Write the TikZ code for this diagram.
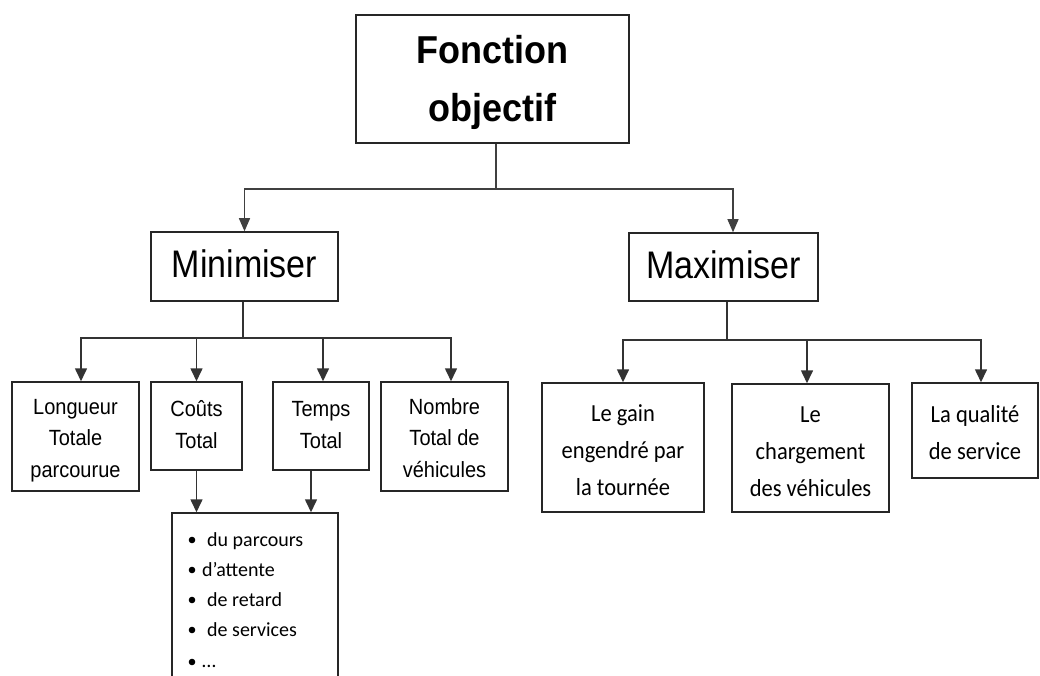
\documentclass[tikz,border=0pt]{standalone}
\usepackage{fontspec}
\usepackage{graphicx}
\setmainfont{Liberation Sans}
\newfontfamily\calibri{Carlito}
\usetikzlibrary{arrows.meta}
% vertically stretched, centred multi-line label; optional argument lowers the ink
\newcommand\vlabel[3][0pt]{\raisebox{#1}[\height][\depth]{\scalebox{1}[#2]{\begin{tabular}{@{}c@{}}#3\end{tabular}}}}
\begin{document}
\begin{tikzpicture}[x=1pt,y=-1pt,
  box/.style={draw=black!85, line width=1.5pt, inner sep=0pt, align=center},
  link/.style={draw=black!80, line width=1.6pt},
  thinlink/.style={draw=black!75, line width=1.2pt},
  arr/.style={link, -{Triangle[length=13pt,width=12pt]}},
  thinarr/.style={thinlink, -{Triangle[length=13pt,width=11pt]}},
  titlefont/.style={font=\bfseries\fontsize{36}{53.7}\selectfont},
  headfont/.style={font=\fontsize{34}{40}\selectfont},
  leaffont/.style={font=\fontsize{20}{28.8}\selectfont},
  calfont/.style={font=\calibri\fontsize{22.5}{34}\selectfont},
  itemfont/.style={font=\calibri\fontsize{20}{24}\selectfont, anchor=base west, inner sep=0pt}]
\clip (0,0) rectangle (1040,676);
\fill[white] (0,0) rectangle (1040,676);

% root
\node[box, titlefont, minimum width=273pt, minimum height=128pt] (top) at (492.5,79)
  {\vlabel[-2pt]{1.08}{Fonction\\objectif}};

% two directions
\node[box, headfont, minimum width=187pt, minimum height=69pt] (mini) at (244.5,266.5)
  {\vlabel[-2pt]{1.13}{Minimiser}};
\node[box, headfont, minimum width=189pt, minimum height=68pt] (maxi) at (723.5,267)
  {\vlabel[-2pt]{1.13}{Maximiser}};

% criteria to minimise
\node[box, leaffont, minimum width=127pt, minimum height=109pt] (longueur) at (75.5,436.5)
  {\vlabel[-3pt]{1.1}{Longueur\\Totale\\parcourue}};
\node[box, leaffont, minimum width=91pt, minimum height=88pt] (couts) at (196.5,426)
  {\vlabel{1.1}{Coûts\\Total}};
\node[box, leaffont, minimum width=96pt, minimum height=88pt] (temps) at (321,426)
  {\vlabel{1.1}{Temps\\Total}};
\node[box, leaffont, minimum width=127pt, minimum height=109pt] (nombre) at (444.5,436.5)
  {\vlabel[-3pt]{1.1}{Nombre\\Total de\\véhicules}};

% cost / time components (box runs past the lower edge)
\node[box, minimum width=166pt, minimum height=207pt] (list) at (255,616.5) {};
\foreach \y in {540,570,600,630,662} \fill (192,\y) circle (3.3);
\node[itemfont] (i1) at (207,546) {du parcours};
\node[itemfont] (i2) at (202,576) {d’attente};
\node[itemfont] (i3) at (207,606) {de retard};
\node[itemfont] (i4) at (207,636) {de services};
\node[itemfont] (i5) at (202,667) {…};

% criteria to maximise
\node[box, calfont, minimum width=162pt, minimum height=129pt] (gain) at (623,447.5)
  {\vlabel[-4pt]{1.09}{Le gain\\engendré par\\la tournée}};
\node[box, calfont, minimum width=157pt, minimum height=128pt] (charg) at (810.5,448)
  {\vlabel[-4pt]{1.09}{Le\\chargement\\des véhicules}};
\node[box, calfont, minimum width=126pt, minimum height=95pt] (qual) at (975,430.5)
  {\vlabel[-3pt]{1.09}{La qualité\\de service}};

% connectors from the root
\coordinate (j0) at (496,189);
\draw[thinlink] (j0 |- top.south) -- (j0);
\draw[thinarr] (j0) -| (mini.north);
\draw[thinarr] (j0) -| ([xshift=9.5pt]maxi.north);

% connectors under Minimiser
\coordinate (j1) at (243,338);
\draw[link] (j1 |- mini.south) -- (j1);
\draw[arr] (j1) -| ([xshift=5.5pt]longueur.north);
\draw[arr] (j1) -| (couts.north);
\draw[arr] (j1) -| ([xshift=2pt]temps.north);
\draw[arr] (j1) -| ([xshift=6.5pt]nombre.north);
\draw[arr] (couts.south) -- (couts.south |- list.north);
\draw[arr] ([xshift=-10pt]temps.south) -- ([xshift=-10pt]temps.south |- list.north);

% connectors under Maximiser
\coordinate (j2) at (727,340);
\draw[link] (j2 |- maxi.south) -- (j2);
\draw[arr] (j2) -| (gain.north);
\draw[arr] (j2) -| ([xshift=-3.5pt]charg.north);
\draw[arr] (j2) -| ([xshift=6pt]qual.north);
\end{tikzpicture}
\end{document}
